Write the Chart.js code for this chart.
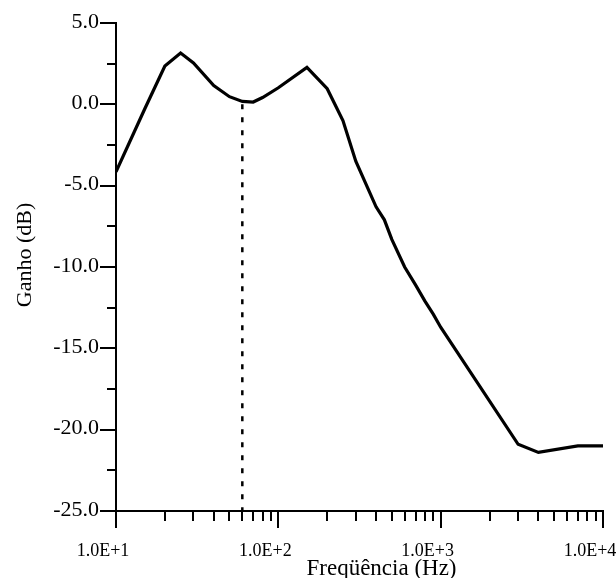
<!DOCTYPE html>
<html>
<head>
<meta charset="utf-8">
<script src="https://cdn.jsdelivr.net/npm/chart.js@4"></script>
<style>
  html, body { margin: 0; padding: 0; background: #fff; }
  canvas { display: block; }
</style>
</head>
<body>
<canvas id="chart" width="616" height="578"></canvas>
<script>
// ── Data ──────────────────────────────────────────────────────
const freqHz = [10, 15, 20, 25, 30, 40, 50, 60, 70, 80, 100, 150, 200, 250, 300,
                350, 400, 450, 500, 600, 700, 800, 900, 1000, 3000, 4000, 7000, 8000, 10000];
const gainDb = [-4.15, -0.3, 2.35, 3.15, 2.55, 1.15, 0.47, 0.18, 0.14, 0.42, 1.02, 2.27, 0.96, -1.0, -3.5,
                -5.0, -6.3, -7.1, -8.3, -10.0, -11.1, -12.1, -12.9, -13.7, -20.9, -21.4, -21.0, -21.0, -21.0];

const markerFreq = [60, 60];
const markerGain = [0, -25];

const xTickValues = [10, 100, 1000, 10000];
const xTickLabels = ['1.0E+1', '1.0E+2', '1.0E+3', '1.0E+4'];
const yTickValues = [-25, -20, -15, -10, -5, 0, 5];
const yTickLabels = ['-25.0', '-20.0', '-15.0', '-10.0', '-5.0', '0.0', '5.0'];

const xTitle = 'Freqüência (Hz)';
const yTitle = 'Ganho (dB)';

Chart.defaults.font.family = '"Liberation Serif", "Times New Roman", serif';
Chart.defaults.color = '#000';

// ── Tick marks + axis titles ──────────────────────────────────
const axisDecor = {
  id: 'axisDecor',
  afterDraw(chart) {
    const { ctx, chartArea: area, scales: { x, y } } = chart;
    ctx.save();
    ctx.strokeStyle = '#000';
    ctx.lineWidth = 2;
    ctx.beginPath();
    for (let v = -25; v <= 5; v += 2.5) {
      const py = Math.round(y.getPixelForValue(v));
      const len = v % 5 === 0 ? 16 : 9;
      ctx.moveTo(area.left - len, py);
      ctx.lineTo(area.left, py);
    }
    for (let d = 10; d < 10000; d *= 10) {
      for (let m = 1; m <= 10; m++) {
        const px = Math.round(x.getPixelForValue(d * m));
        const len = (m === 1 || m === 10) ? 17 : 10;
        ctx.moveTo(px, area.bottom);
        ctx.lineTo(px, area.bottom + len);
      }
    }
    ctx.stroke();

    ctx.fillStyle = '#000';
    ctx.font = '23px "Liberation Serif", serif';
    ctx.textAlign = 'center';
    ctx.textBaseline = 'alphabetic';
    ctx.fillText(xTitle, (area.left + area.right) / 2 + 22, 575);

    ctx.font = '22px "Liberation Serif", serif';
    ctx.textBaseline = 'middle';
    ctx.translate(25, (area.top + area.bottom) / 2 - 12);
    ctx.rotate(-Math.PI / 2);
    ctx.fillText(yTitle, 0, 0);
    ctx.restore();
  },
};

// ── Chart ─────────────────────────────────────────────────────
const ctx = document.getElementById('chart').getContext('2d');
new Chart(ctx, {
  type: 'line',
  data: {
    datasets: [
      {
        data: markerFreq.map((f, i) => ({ x: f, y: markerGain[i] })),
        borderColor: '#000',
        borderWidth: 2.5,
        borderDash: [5, 8],
        pointRadius: 0,
        fill: false,
      },
      {
        data: freqHz.map((f, i) => ({ x: f, y: gainDb[i] })),
        borderColor: '#000',
        borderWidth: 3.2,
        pointRadius: 0,
        tension: 0,
        fill: false,
      },
    ],
  },
  options: {
    responsive: false,
    animation: false,
    devicePixelRatio: 1,
    layout: { padding: { top: 23, right: 13, left: 0, bottom: 0 } },
    plugins: { legend: { display: false }, tooltip: { enabled: false } },
    scales: {
      x: {
        type: 'logarithmic',
        min: 10,
        max: 10000,
        afterBuildTicks: (s) => { s.ticks = xTickValues.map(v => ({ value: v })); },
        afterFit: (s) => { s.height = 67; s.paddingLeft = 0; s.paddingRight = 0; },
        ticks: {
          callback: (v, i) => xTickLabels[i],
          font: { size: 18 },
          color: '#000',
          padding: 29,
          labelOffset: -13,
          maxRotation: 0,
          autoSkip: false,
        },
        grid: { display: false, drawTicks: false },
        border: { display: true, color: '#000', width: 2 },
      },
      y: {
        type: 'linear',
        min: -25,
        max: 5,
        afterBuildTicks: (s) => { s.ticks = yTickValues.map(v => ({ value: v })); },
        afterFit: (s) => { s.width = 116; s.paddingTop = 0; s.paddingBottom = 0; },
        ticks: {
          callback: (v, i) => yTickLabels[i],
          font: { size: 22 },
          color: '#000',
          padding: 17,
          labelOffset: -1,
          autoSkip: false,
        },
        grid: { display: false, drawTicks: false },
        border: { display: true, color: '#000', width: 2 },
      },
    },
  },
  plugins: [axisDecor],
});
</script>
</body>
</html>
